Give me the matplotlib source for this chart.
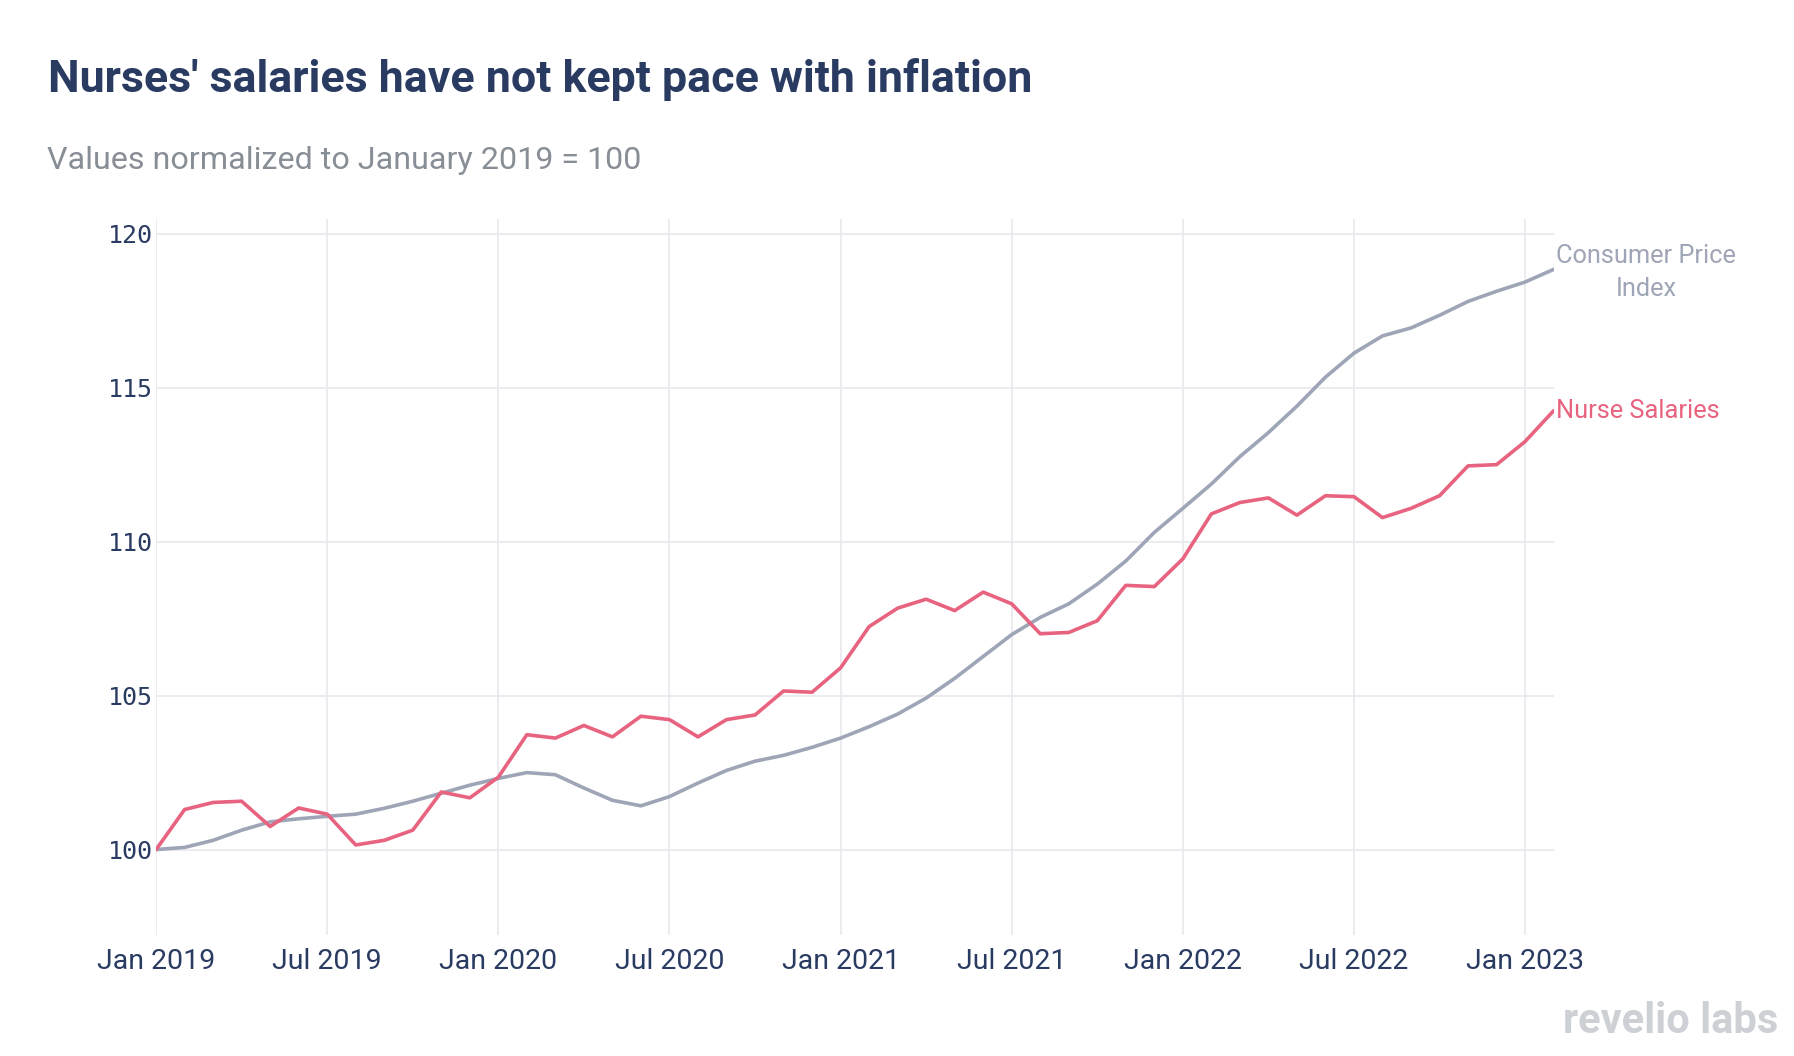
import matplotlib
matplotlib.use("Agg")
import matplotlib.pyplot as plt
import numpy as np

# --------------------------------------------------------------------------- #
# data (monthly, Jan 2019 .. Feb 2023, Jan 2019 = 100)                         #
# --------------------------------------------------------------------------- #
months = np.arange(50)  # 0 = Jan 2019

nurse_salaries = [
    100.00, 101.30, 101.53, 101.57, 100.75, 101.35, 101.15, 100.15, 100.30, 100.63,
    101.87, 101.68, 102.35, 103.73, 103.62, 104.03, 103.66, 104.33, 104.22, 103.66,
    104.22, 104.37, 105.15, 105.11, 105.90, 107.24, 107.84, 108.13, 107.76, 108.36,
    107.98, 107.01, 107.05, 107.43, 108.58, 108.54, 109.44, 110.90, 111.27, 111.42,
    110.86, 111.49, 111.46, 110.78, 111.08, 111.49, 112.46, 112.50, 113.25, 114.25,
]

cpi = [
    100.00, 100.07, 100.30, 100.63, 100.90, 101.00, 101.08, 101.15, 101.34, 101.57,
    101.83, 102.09, 102.31, 102.50, 102.43, 102.00, 101.60, 101.42, 101.72, 102.16,
    102.57, 102.87, 103.06, 103.32, 103.62, 103.99, 104.40, 104.92, 105.56, 106.27,
    106.98, 107.54, 107.98, 108.62, 109.37, 110.30, 111.08, 111.87, 112.76, 113.54,
    114.40, 115.34, 116.12, 116.68, 116.94, 117.35, 117.80, 118.13, 118.43, 118.84,
]

x_ticks = [0, 6, 12, 18, 24, 30, 36, 42, 48]
x_labels = ["Jan 2019", "Jul 2019", "Jan 2020", "Jul 2020", "Jan 2021",
            "Jul 2021", "Jan 2022", "Jul 2022", "Jan 2023"]
y_ticks = [100, 105, 110, 115, 120]

# --------------------------------------------------------------------------- #
# style                                                                        #
# --------------------------------------------------------------------------- #
NAVY  = "#2a3b62"
GREY  = "#888e96"
RED   = "#e8637f"
CPI_C = "#9ea5b6"
GRID  = "#e9e9ef"

plt.rcParams["font.family"] = ["Roboto", "DejaVu Sans"]

fig = plt.figure(figsize=(17.94, 10.56), dpi=100)
ax = fig.add_axes([0.087, 0.115, 0.779, 0.678])

ax.plot(months, cpi, color=CPI_C, linewidth=2.6, solid_capstyle="round", zorder=3)
ax.plot(months, nurse_salaries, color=RED, linewidth=2.6, solid_capstyle="round", zorder=4)

ax.set_xlim(0, 49)
ax.set_ylim(97.24, 120.49)

ax.set_xticks(x_ticks)
ax.set_xticklabels(x_labels, fontsize=20.5, color=NAVY)
ax.set_yticks(y_ticks)
ax.set_yticklabels([str(v) for v in y_ticks], fontsize=18, color=NAVY,
                   family="DejaVu Sans Mono")
ax.tick_params(axis="both", length=0)
ax.tick_params(axis="x", pad=10)
ax.tick_params(axis="y", pad=2)

ax.grid(True, color=GRID, linewidth=1.3)
ax.set_axisbelow(True)
for s in ax.spines.values():
    s.set_visible(False)

# series labels at line ends
ax.text(52.25, cpi[-1] - 0.1, "Consumer Price\nIndex", color=CPI_C, fontsize=18.3,
        ha="center", va="center", linespacing=1.45)
ax.text(49.1, nurse_salaries[-1], "Nurse Salaries", color=RED, fontsize=18.3,
        ha="left", va="center")

# titles
fig.text(0.027, 0.913, "Nurses' salaries have not kept pace with inflation",
         fontsize=32.2, fontweight="bold", color=NAVY, ha="left", va="baseline")
fig.text(0.026, 0.840, "Values normalized to January 2019 = 100",
         fontsize=23.2, color=GREY, ha="left", va="baseline")

# logo
fig.text(0.991, 0.022, "revelio labs", fontsize=30, fontweight="bold",
         color="#cdd0d5", ha="right", va="baseline")

fig.savefig("out.png", dpi=100, facecolor="white")
